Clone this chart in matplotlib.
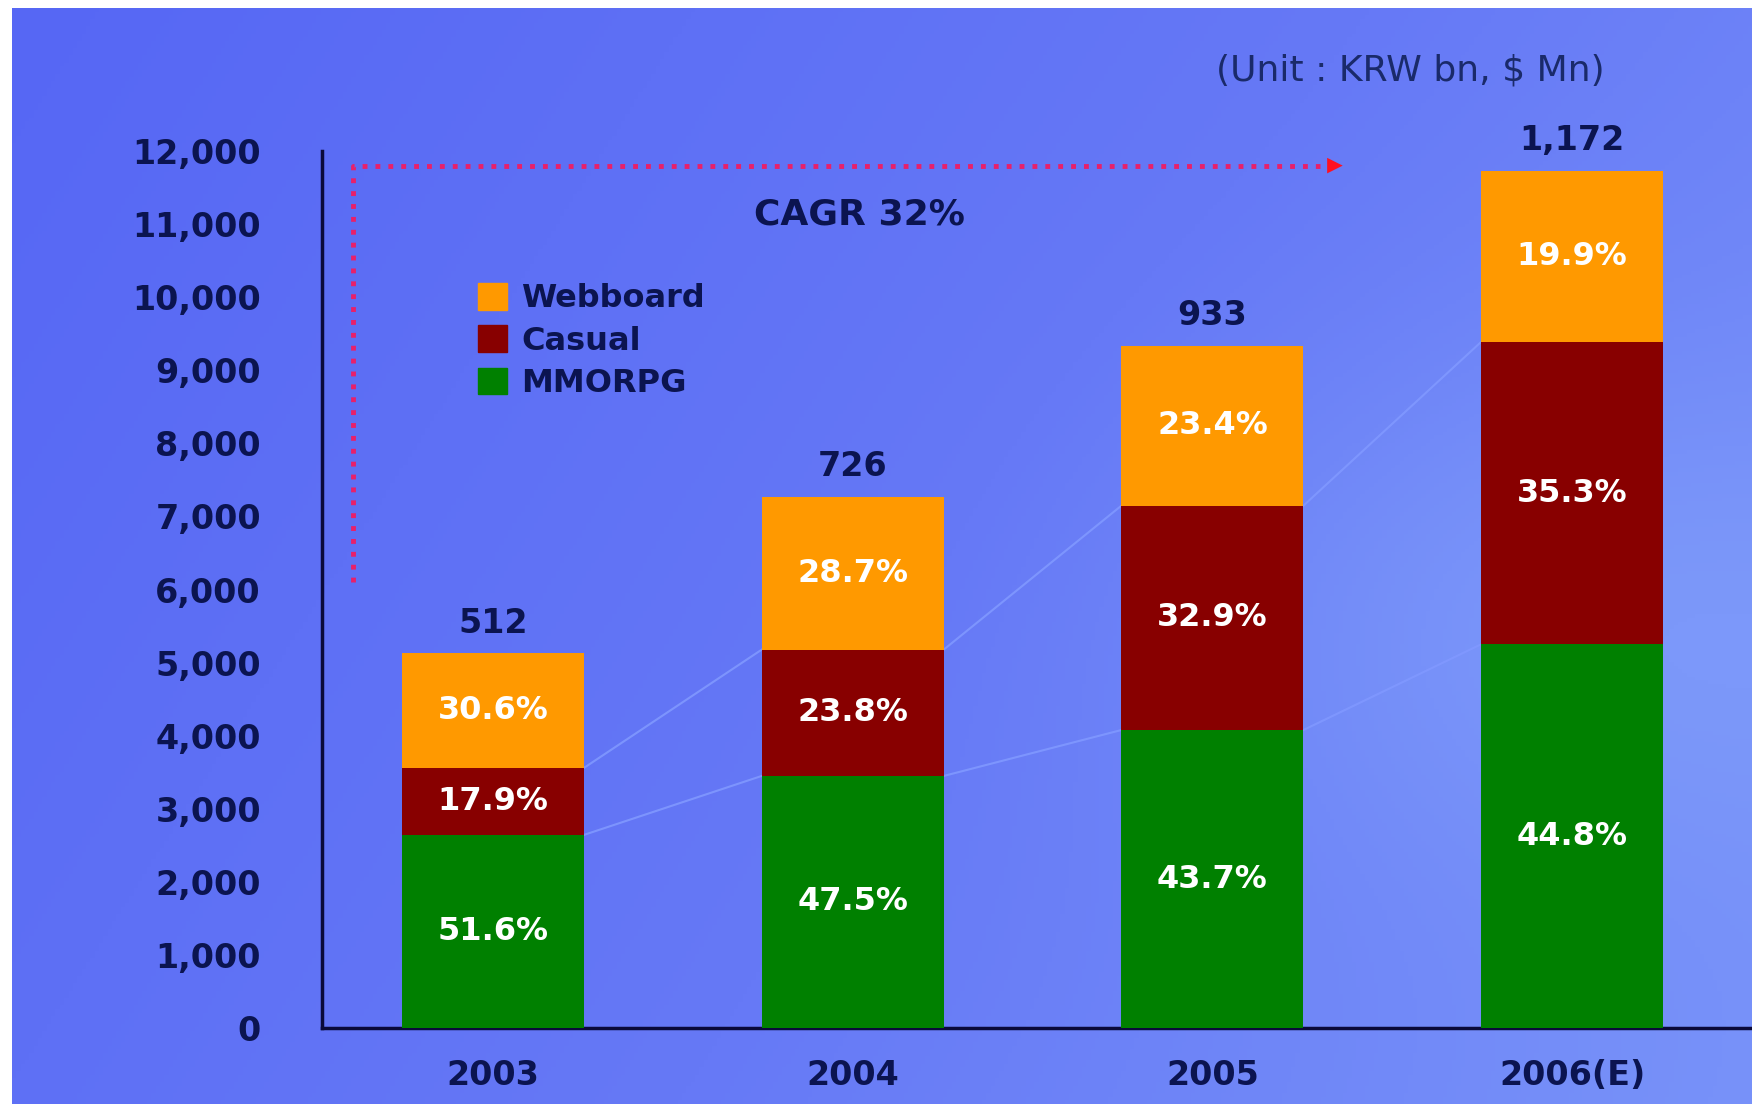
"""
Korean online game market by segment, 2003-2006(E)
Stacked bars with segment shares and totals
"""

import numpy as np
import matplotlib.pyplot as plt
from matplotlib.colors import LinearSegmentedColormap
from matplotlib.patches import Patch

# Data
years = ['2003', '2004', '2005', '2006(E)']
totals = [512, 726, 933, 1172]          # KRW bn
total_labels = ['512', '726', '933', '1,172']
segments = ['MMORPG', 'Casual', 'Webboard']
mmorpg_share = [51.6, 47.5, 43.7, 44.8]
casual_share = [17.9, 23.8, 32.9, 35.3]
webboard_share = [30.6, 28.7, 23.4, 19.9]
axis_scale = 10                          # left axis drawn as total x 10
yticks = list(range(0, 12001, 1000))

colors = {'MMORPG': '#008000', 'Casual': '#880000', 'Webboard': '#ff9900'}
navy = '#0b1450'

W, H = 1752, 1104
fig = plt.figure(figsize=(W / 100, H / 100), dpi=100)
fig.patch.set_facecolor('white')

# Blue gradient background (darker top-left, lighter towards the right)
bg = fig.add_axes([12 / W, 0, 1 - 12 / W, 1 - 8 / H], zorder=0)
gx, gy = np.meshgrid(np.linspace(0, 1, 400), np.linspace(0, 1, 300))
grad = 0.5 * gx + 0.2 * gy + 0.2 * np.exp(-((gx - 0.9) ** 2 + (gy - 0.55) ** 2) / 0.06)
cmap = LinearSegmentedColormap.from_list('bg', ['#5667f4', '#6679f6', '#7c98fa'])
bg.imshow(grad, cmap=cmap, aspect='auto', extent=[0, 1, 0, 1], origin='upper')
bg.axis('off')

# Main chart axes
ax = fig.add_axes([322 / W, 1 - 1028 / H, 1 - 322 / W, (1028 - 151) / H], zorder=1)
ax.set_facecolor('none')

x = np.arange(len(years))
width = 0.506
tot = np.array(totals) * axis_scale
shares = [np.array(mmorpg_share), np.array(casual_share), np.array(webboard_share)]
bottom = np.zeros(len(years))
tops = []
for name, share in zip(segments, shares):
    vals = tot * share / 100
    ax.bar(x, vals, width, bottom=bottom, color=colors[name], label=name, zorder=3)
    for xi, b, v, s in zip(x, bottom, vals, share):
        ax.text(xi, b + v / 2, f'{s:.1f}%', ha='center', va='center', color='white',
                fontsize=23, fontweight='bold', zorder=5)
    bottom = bottom + vals
    tops.append(bottom.copy())

# Series lines between bars (MMORPG and Casual tops)
for top in tops[:2]:
    for i in range(len(years) - 1):
        ax.plot([x[i] + width / 2, x[i + 1] - width / 2], [top[i], top[i + 1]],
                color='#8098ff', lw=1.5, alpha=0.9, zorder=2)

# Totals above bars
for xi, t, lab in zip(x, tot, total_labels):
    ax.text(xi, t + 420, lab, ha='center', va='center', color=navy,
            fontsize=24, fontweight='bold', clip_on=False)

# CAGR dotted arrow
ax.plot([-0.39, -0.39, 2.30], [6100, 11800, 11800], linestyle=':', color='#e8206a',
        lw=3.5, zorder=2, clip_on=False)
ax.annotate('', xy=(2.37, 11800), xytext=(2.27, 11800),
            arrowprops=dict(arrowstyle='-|>', color='#ff1020', lw=0, mutation_scale=28),
            annotation_clip=False)
ax.text(1.02, 11130, 'CAGR 32%', ha='center', va='center', color=navy,
        fontsize=26, fontweight='bold')

# Axes styling
ax.set_xlim(-0.475, 3.5)
ax.set_ylim(0, 12000)
ax.set_yticks(yticks)
ax.set_yticklabels([f'{v:,}' for v in yticks])
ax.set_xticks(x)
ax.set_xticklabels(years)
ax.tick_params(axis='y', length=0, pad=44, labelsize=24, labelcolor=navy)
ax.tick_params(axis='x', length=0, pad=22, labelsize=24, labelcolor=navy)
for lab in ax.get_yticklabels() + ax.get_xticklabels():
    lab.set_fontweight('bold')
for side in ['top', 'right']:
    ax.spines[side].set_visible(False)
for side in ['left', 'bottom']:
    ax.spines[side].set_color('#0a0a3a')
    ax.spines[side].set_linewidth(2.5)

# Legend (Webboard on top)
handles = [Patch(color=colors[n]) for n in segments[::-1]]
leg = ax.legend(handles, segments[::-1], loc='upper left',
                bbox_to_anchor=(478 / W, 1 - 283 / H), bbox_transform=fig.transFigure,
                frameon=False, handlelength=0.9, handleheight=0.9, handletextpad=0.45,
                labelspacing=0.35, borderpad=0, borderaxespad=0,
                prop={'size': 23, 'weight': 'bold'}, labelcolor=navy)

fig.text(1410 / W, 1 - 70 / H, '(Unit : KRW bn, $ Mn)', ha='center', va='center',
         color='#1a2a6a', fontsize=26)

plt.savefig('out.png', dpi=100)
